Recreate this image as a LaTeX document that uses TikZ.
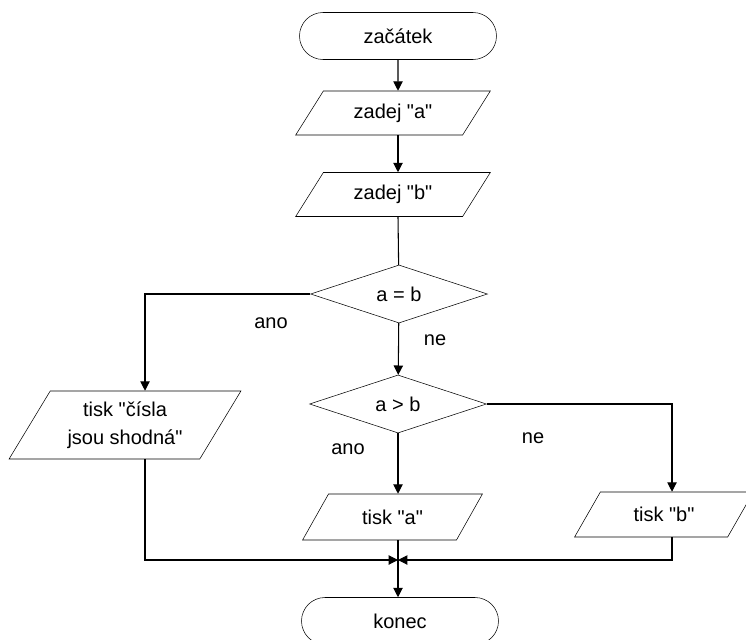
\documentclass[tikz,border=0pt]{standalone}
\usepackage{fontspec}
\setmainfont{Liberation Sans}
\usetikzlibrary{shapes.geometric, shapes.misc, arrows.meta}
\newcommand{\uvoz}{\textquotedbl}

\begin{document}
\begin{tikzpicture}[x=0.75pt,y=0.75pt,yscale=-1,
  every node/.style={font=\fontsize{15}{21}\selectfont},
  term/.style={draw, rounded rectangle, inner sep=0pt, minimum width=147.75pt, minimum height=35.25pt},
  io/.style={draw, trapezium, trapezium left angle=50, trapezium right angle=130, trapezium stretches=true, inner sep=0pt},
  rozhod/.style={draw, diamond, aspect=3, inner sep=0pt, minimum width=132.75pt, minimum height=43.5pt},
  line/.style={draw, line width=0.8pt},
  sip/.style={line, -{Triangle[length=7pt,width=7pt]}}
]
%set diagram to the size of the reference
\useasboundingbox (0,0) rectangle (746,639);

% Nodes
\node [term] (start) at (398,36) {začátek};
\node [io, minimum width=146.25pt, minimum height=33pt] (za) at (393,113) {zadej \uvoz a\uvoz};
\node [io, minimum width=146.25pt, minimum height=33pt] (zb) at (393,194.5) {zadej \uvoz b\uvoz};
\node [rozhod] (dec1) at (399,294) {a = b};
\node [rozhod] (dec2) at (398,404) {a > b};
\node [io, trapezium left angle=56, trapezium right angle=124, minimum width=174pt, minimum height=51pt, align=center] (shodna) at (125,425) {tisk \uvoz čísla\\jsou shodná\uvoz};
\node [io, minimum width=135.75pt, minimum height=34.5pt] (ta) at (392.5,517) {tisk \uvoz a\uvoz};
\node [io, minimum width=135pt, minimum height=33.75pt] (tb) at (664,514.5) {tisk \uvoz b\uvoz};
\node [term] (konec) at (400,621) {konec};
\coordinate (spoj) at (398,560);

% Labels
\node (ano1) at (271,323) {ano};
\node (ne1) at (435,340) {ne};
\node (ano2) at (348,449) {ano};
\node (ne2) at (533,438) {ne};

% Connectors
\draw [sip] (start) -- (start |- za.north);
\draw [sip] (za.south -| start) -- (zb.north -| start);
\draw [line] (zb.south -| start) -- (dec1);
\draw [sip] (dec1.west) -| ([xshift=15pt]shodna.north);
\draw [sip] (dec1) -- (dec2);
\draw [sip] (dec2.east) -| ([xshift=6pt]tb.north);
\draw [sip] (dec2) -- (dec2 |- ta.north);
\draw [sip] ([xshift=15pt]shodna.south) |- (spoj);
\draw [sip] ([xshift=6pt]tb.south) |- (spoj);
\draw [line] (ta.south -| spoj) -- (spoj);
\draw [sip] (spoj) -- (spoj |- konec.north);

\end{tikzpicture}
\end{document}
